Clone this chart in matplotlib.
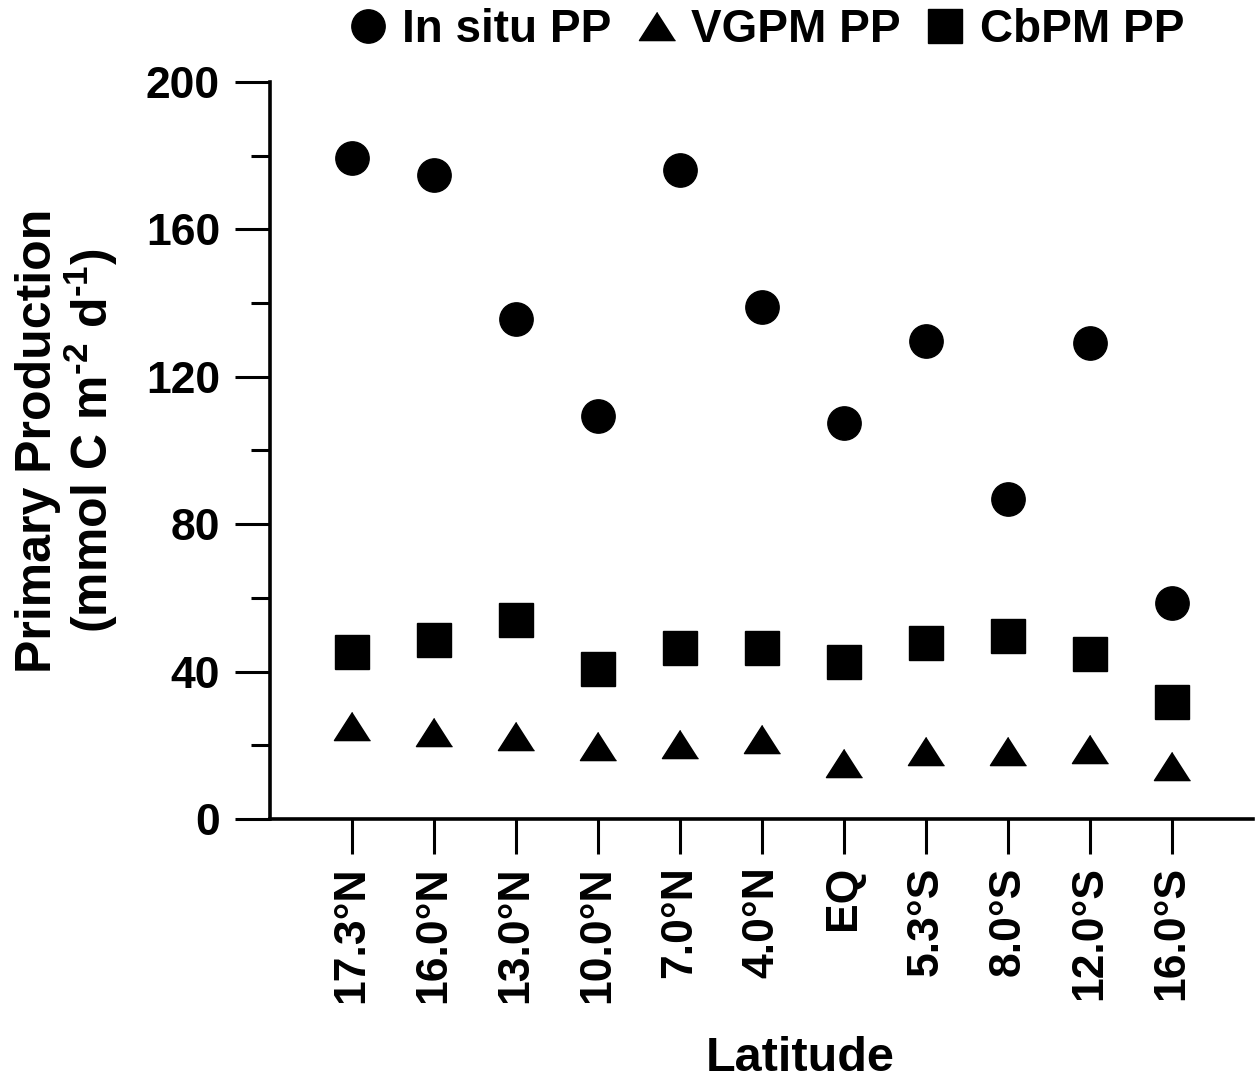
import numpy as np
import matplotlib
matplotlib.use('Agg')
import matplotlib.pyplot as plt
from matplotlib.ticker import MultipleLocator

plt.rcParams['font.family'] = ['Liberation Sans', 'DejaVu Sans']
plt.rcParams['font.weight'] = 'bold'
plt.rcParams['mathtext.fontset'] = 'custom'
plt.rcParams['mathtext.rm'] = 'Liberation Sans:bold'
plt.rcParams['mathtext.bf'] = 'Liberation Sans:bold'
plt.rcParams['mathtext.default'] = 'bf'

# 緯度站點
latitudes = ['17.3°N', '16.0°N', '13.0°N', '10.0°N', '7.0°N', '4.0°N',
             'EQ', '5.3°S', '8.0°S', '12.0°S', '16.0°S']
insitu_pp = [179.4, 174.8, 135.7, 109.4, 176.1, 138.9, 107.5, 129.7, 86.8, 129.2, 58.6]
vgpm_pp = [25.2, 23.6, 22.5, 19.8, 20.4, 21.7, 15.2, 18.5, 18.5, 19.0, 14.4]
cbpm_pp = [45.3, 48.6, 54.0, 40.7, 46.4, 46.4, 42.6, 47.8, 49.7, 44.8, 31.8]

x = np.arange(1, len(latitudes) + 1)

fig = plt.figure(figsize=(12.56, 10.87), dpi=100)
ax = fig.add_axes([0.215, 0.2466, 0.783, 0.678])

tri = [(0, 0.78), (-1, -0.78), (1, -0.78)]
ax.plot(x, insitu_pp, 'o', color='black', markersize=24, label='In situ PP', clip_on=False)
ax.plot(x, vgpm_pp, marker=tri, ls='none', color='black', markersize=26, label='VGPM PP', clip_on=False)
ax.plot(x, cbpm_pp, 's', color='black', markersize=25, label='CbPM PP', clip_on=False)

ax.set_xlim(0, 12)
ax.set_ylim(0, 200)
ax.set_xticks(x)
ax.set_xticklabels(latitudes, rotation=90, fontsize=32, fontweight='bold')
ax.yaxis.set_major_locator(MultipleLocator(40))
ax.yaxis.set_minor_locator(MultipleLocator(20))
ax.tick_params(axis='y', which='major', length=25, width=2.2, labelsize=32, pad=11)
ax.tick_params(axis='y', which='minor', length=14, width=2.2)
ax.tick_params(axis='x', which='major', length=25, width=2.2, pad=9)
for lab in ax.get_yticklabels():
    lab.set_fontweight('bold')

for s in ['top', 'right']:
    ax.spines[s].set_visible(False)
for s in ['left', 'bottom']:
    ax.spines[s].set_linewidth(2.6)

ax.set_ylabel('Primary Production\n(mmol C m$^{\\text{-2}}$ d$^{\\text{-1}}$)',
              fontsize=36, fontweight='bold', linespacing=1.0)
ax.yaxis.set_label_coords(-0.153, 0.513)
ax.set_xlabel('Latitude', fontsize=35, fontweight='bold')
ax.xaxis.set_label_coords(0.539, -0.295)

fig.legend(loc='center', bbox_to_anchor=(0.607, 0.972), ncol=3, frameon=False,
           prop={'weight': 'bold', 'size': 33},
           handletextpad=0.15, columnspacing=0.38, handlelength=1.2)

plt.savefig('out.png', dpi=100)
